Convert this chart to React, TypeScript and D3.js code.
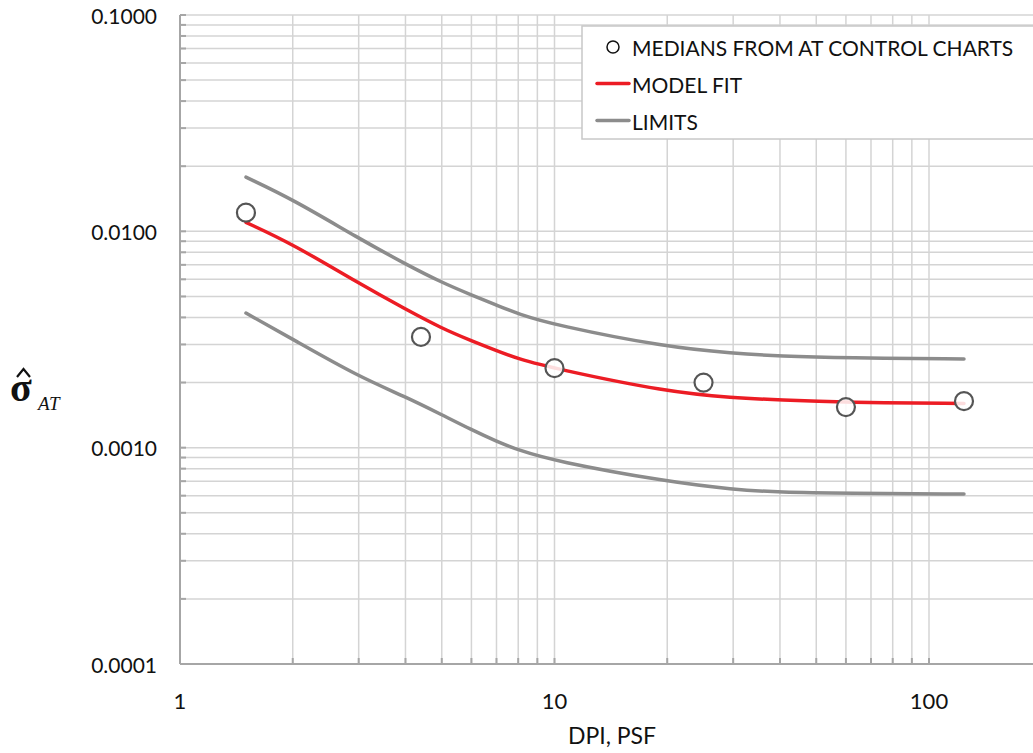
import React from 'react';
import * as d3 from 'd3';

// medians
const medianDpi = [1.5, 4.4, 10, 25, 60, 124];
const medianSigma = [0.0122, 0.00325, 0.00233, 0.002, 0.00154, 0.00164];

// curves at these x positions
const curveDpi = [1.5, 2, 3, 4, 5, 6, 7, 8, 10, 20, 30, 40, 60, 124];
const fitSigma = [0.011, 0.00874, 0.00575, 0.00437, 0.00356, 0.00312, 0.00281, 0.00257, 0.00232, 0.00181, 0.0017, 0.00166, 0.00162, 0.0016];
const upperSigma = [0.0178, 0.01406, 0.00928, 0.00706, 0.0058, 0.00508, 0.00456, 0.00415, 0.00369, 0.00291, 0.00273, 0.00265, 0.0026, 0.00257];
const lowerSigma = [0.00419, 0.00317, 0.00213, 0.00172, 0.00142, 0.00121, 0.00107, 0.000975, 0.000867, 0.000696, 0.000641, 0.000621, 0.000615, 0.00061];

const xTickLabels = ['1', '10', '100'];
const yTickLabels = ['0.0001', '0.0010', '0.0100', '0.1000'];
const legendLabels = ['MEDIANS FROM AT CONTROL CHARTS', 'MODEL FIT', 'LIMITS'];

const W = 1033;
const H = 753;
const FONT = 'Lato, "Open Sans", sans-serif';

export default function App() {
  const x = d3.scaleLog().domain([1, 1000]).range([180, 180 + 3 * 374.5]);
  const y = d3.scaleLog().domain([0.0001, 0.1]).range([664, 15]);

  const decadesX = [1, 10, 100];
  const decadesY = [0.0001, 0.001, 0.01];
  const minorX: number[] = [];
  decadesX.forEach(d => { for (let k = 1; k <= 9; k++) minorX.push(d * k); });
  const minorY: number[] = [];
  decadesY.forEach(d => { for (let k = 1; k <= 9; k++) minorY.push(d * k); });
  minorY.push(0.1);

  const line = d3.line<[number, number]>()
    .x(d => x(d[0]))
    .y(d => y(d[1]))
    .curve(d3.curveBasis);

  const mk = (vals: number[]) => line(curveDpi.map((v, i) => [v, vals[i]]));

  const left = x(1);
  const right = W + 20;
  const top = y(0.1);
  const bottom = y(0.0001);

  return (
    <svg width={W} height={H} style={{ position: 'absolute', left: 0, top: 0, background: '#fff' }}>
      {/* gridlines */}
      <g stroke="#d4d4d4" strokeWidth={1.5}>
        {minorY.map(v => (
          <line key={'gy' + v} x1={left} x2={right} y1={y(v)} y2={y(v)} />
        ))}
        {minorX.filter(v => v > 1 && x(v) < right).map(v => (
          <line key={'gx' + v} x1={x(v)} x2={x(v)} y1={top} y2={bottom} />
        ))}
      </g>
      {/* axes */}
      <g stroke="#a6a6a6" strokeWidth={2}>
        <line x1={left} x2={left} y1={top} y2={bottom} />
        <line x1={left} x2={right} y1={bottom} y2={bottom} />
        {minorY.map(v => (
          <line key={'ty' + v} x1={left} x2={left + 6} y1={y(v)} y2={y(v)} />
        ))}
        {minorX.filter(v => x(v) < right).map(v => (
          <line key={'tx' + v} x1={x(v)} x2={x(v)} y1={bottom} y2={bottom - 6} />
        ))}
      </g>
      {/* tick labels */}
      <g fontFamily={FONT} fontSize={21} fill="#111">
        {yTickLabels.map(t => (
          <text key={t} x={157} y={y(+t)} textAnchor="end" dominantBaseline="central">{t}</text>
        ))}
        {xTickLabels.map(t => (
          <text key={t} x={x(+t)} y={700} fontSize={22} textAnchor="middle" dominantBaseline="central">{t}</text>
        ))}
        <text x={612} y={735} fontSize={23} textAnchor="middle" dominantBaseline="central">DPI, PSF</text>
      </g>
      {/* y label: sigma hat, subscript AT */}
      <g fontFamily='"Liberation Serif", "DejaVu Serif", serif' fill="#111">
        <text x={10} y={401} fontSize={40} fontWeight="bold">σ</text>
        <path d="M17,377 L23.5,369 L30,377" fill="none" stroke="#111" strokeWidth={2.2} />
        <text x={38} y={410} fontSize={19} fontStyle="italic">AT</text>
      </g>
      {/* curves */}
      <g fill="none" strokeLinecap="round">
        <path d={mk(upperSigma) || ''} stroke="#8c8c8c" strokeWidth={3.5} />
        <path d={mk(lowerSigma) || ''} stroke="#8c8c8c" strokeWidth={3.5} />
        <path d={mk(fitSigma) || ''} stroke="#ec1c24" strokeWidth={3.5} />
      </g>
      {/* medians */}
      <g>
        {medianDpi.map((v, i) => (
          <circle key={v} cx={x(v)} cy={y(medianSigma[i])} r={9}
            fill="#fff" fillOpacity={0.85} stroke="#555" strokeWidth={2.2} />
        ))}
      </g>
      {/* legend */}
      <g fontFamily={FONT} fontSize={21} fill="#111">
        <rect x={582} y={26} width={500} height={113} fill="#fff" stroke="#c8c8c8" strokeWidth={1.5} />
        <circle cx={613} cy={47} r={6} fill="#fff" stroke="#111" strokeWidth={1.5} />
        <line x1={597} x2={629} y1={83.5} y2={83.5} stroke="#ec1c24" strokeWidth={3.5} strokeLinecap="round" />
        <line x1={597} x2={629} y1={120.5} y2={120.5} stroke="#8c8c8c" strokeWidth={3.5} strokeLinecap="round" />
        {legendLabels.map((t, i) => (
          <text key={t} x={632} y={47 + i * 37} dominantBaseline="central">{t}</text>
        ))}
      </g>
    </svg>
  );
}
